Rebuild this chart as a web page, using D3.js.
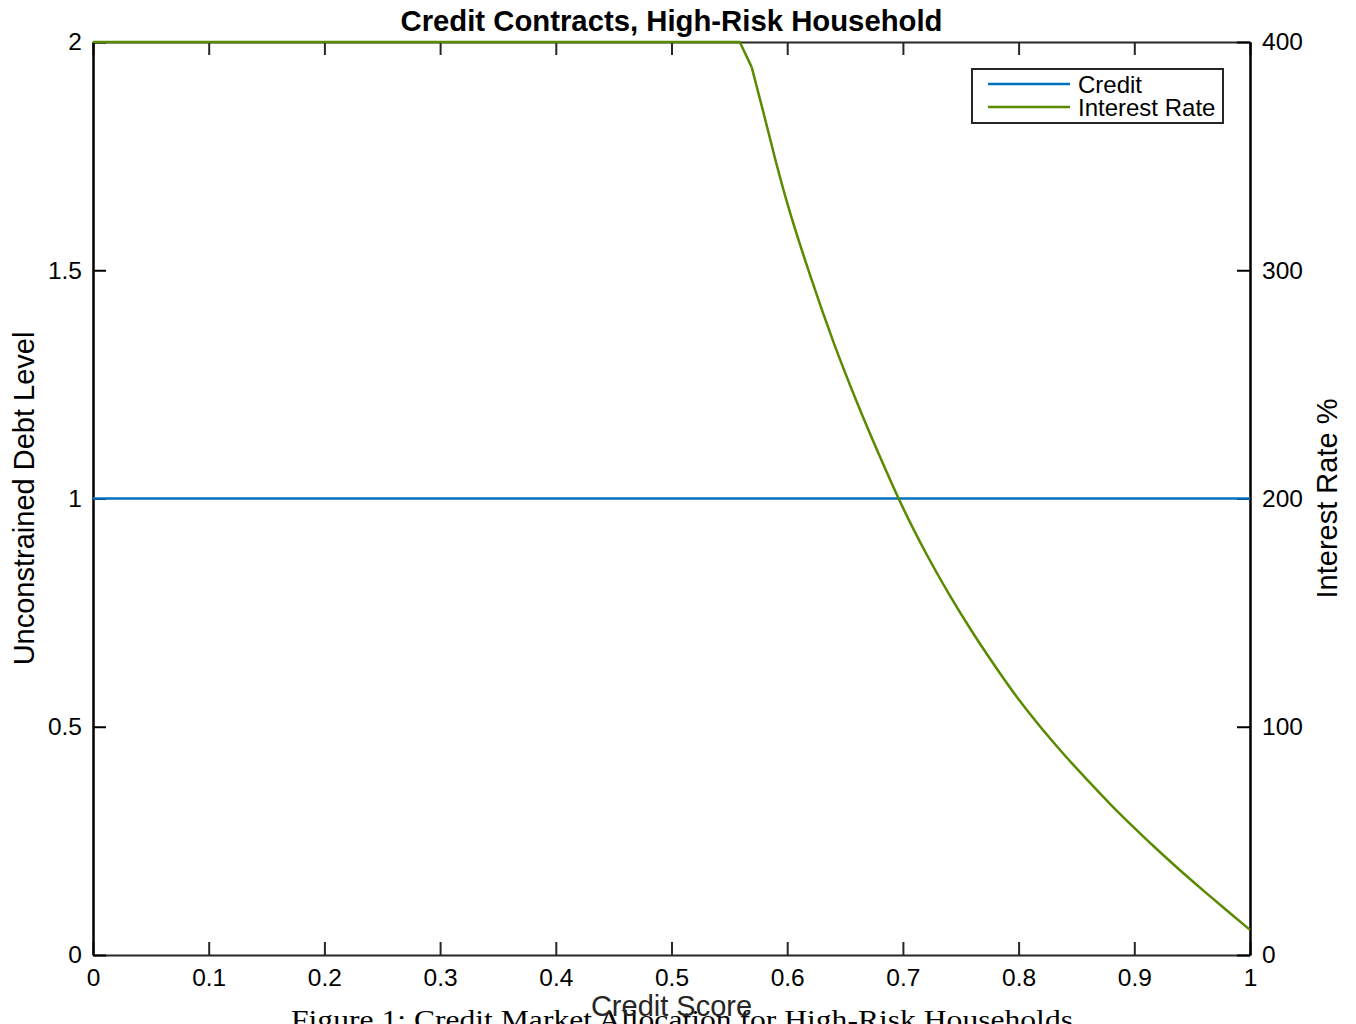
<!DOCTYPE html>
<html>
<head>
<meta charset="utf-8">
<script src="https://cdn.jsdelivr.net/npm/d3@7"></script>
<style>
  html, body { margin: 0; padding: 0; background: #fff; }
  svg { display: block; }
  text { font-family: "Liberation Sans", Arial, Helvetica, sans-serif; }
</style>
</head>
<body>
<svg id="chart" width="1356" height="1024"></svg>
<script>
// ---- data ----
const xTicks = [0, 0.1, 0.2, 0.3, 0.4, 0.5, 0.6, 0.7, 0.8, 0.9, 1];
const xTickLabels = ["0", "0.1", "0.2", "0.3", "0.4", "0.5", "0.6", "0.7", "0.8", "0.9", "1"];
const leftTicks = [0, 0.5, 1, 1.5, 2];
const leftTickLabels = ["0", "0.5", "1", "1.5", "2"];
const rightTicks = [0, 100, 200, 300, 400];
const rightTickLabels = ["0", "100", "200", "300", "400"];

const creditScore = [0, 1];
const creditLevel = [1, 1];

// capped segment (straight pieces) and the smooth decaying part
const rateScoreCapped = [0, 0.559, 0.5693];
const rateValueCapped = [400, 400, 389];
const rateScore = [0.5693, 0.58, 0.59, 0.60, 0.62, 0.64, 0.66, 0.68, 0.70, 0.72, 0.74,
                   0.76, 0.78, 0.80, 0.82, 0.84, 0.86, 0.88, 0.90, 0.92, 0.94, 0.96, 0.98, 1.00];
const rateValue = [389, 368, 348, 329.5, 297.5, 268.5, 242.5, 218.5, 196, 176, 158,
                   141.5, 126.3, 112, 99.2, 87.4, 76.4, 65.7, 55.7, 46.1, 36.9, 28.1, 19.5, 11];

const seriesNames = ["Credit", "Interest Rate"];
const seriesColors = ["#0072BD", "#5a8a00"];

// ---- layout ----
const svg = d3.select("#chart");
const L = 93, R = 1250, T = 42, B = 955;

const x = d3.scaleLinear().domain([0, 1]).range([L, R]);
const yL = d3.scaleLinear().domain([0, 2]).range([B, T]);
const yR = d3.scaleLinear().domain([0, 400]).range([B, T]);

// caption (behind)
svg.append("text")
  .attr("x", 291).attr("y", 1029)
  .attr("textLength", 782).attr("lengthAdjust", "spacingAndGlyphs")
  .style("font-family", "'Liberation Serif', 'DejaVu Serif', serif")
  .style("font-size", "27px").attr("fill", "#000")
  .text("Figure 1: Credit Market Allocation for High-Risk Households");

// axes
function styleAxis(g, color, w) {
  g.select(".domain").attr("stroke", color).attr("stroke-width", w);
  g.selectAll(".tick line").attr("stroke", color).attr("stroke-width", 2);
  g.selectAll(".tick text").attr("fill", "#000")
    .style("font-family", "'Liberation Sans', Arial, sans-serif").style("font-size", "24.5px");
}

const xAxisB = svg.append("g").attr("transform", `translate(0,${B})`)
  .call(d3.axisBottom(x).tickValues(xTicks).tickFormat((d, i) => xTickLabels[i])
    .tickSizeInner(-13).tickSizeOuter(0).tickPadding(14));
styleAxis(xAxisB, "#262626", 2);

const xAxisT = svg.append("g").attr("transform", `translate(0,${T})`)
  .call(d3.axisTop(x).tickValues(xTicks).tickFormat("")
    .tickSizeInner(-13).tickSizeOuter(0));
styleAxis(xAxisT, "#262626", 2);

const yAxisL = svg.append("g").attr("transform", `translate(${L},0)`)
  .call(d3.axisLeft(yL).tickValues(leftTicks).tickFormat((d, i) => leftTickLabels[i])
    .tickSizeInner(-13).tickSizeOuter(0).tickPadding(11));
styleAxis(yAxisL, "#000", 2.5);

const yAxisR = svg.append("g").attr("transform", `translate(${R},0)`)
  .call(d3.axisRight(yR).tickValues(rightTicks).tickFormat((d, i) => rightTickLabels[i])
    .tickSizeInner(-13).tickSizeOuter(0).tickPadding(12));
styleAxis(yAxisR, "#000", 2.5);

// lines
const credit = creditScore.map((s, i) => [s, creditLevel[i]]);
const rateA = rateScoreCapped.map((s, i) => [s, rateValueCapped[i]]);
const rateB = rateScore.map((s, i) => [s, rateValue[i]]);

svg.append("path").datum(credit)
  .attr("fill", "none").attr("stroke", seriesColors[0]).attr("stroke-width", 2.5)
  .attr("d", d3.line().x(d => x(d[0])).y(d => yL(d[1])));

const rateG = svg.append("g").attr("fill", "none").attr("stroke", seriesColors[1])
  .attr("stroke-width", 2.5).attr("stroke-linejoin", "round");
rateG.append("path").datum(rateA)
  .attr("d", d3.line().x(d => x(d[0])).y(d => yR(d[1])));
rateG.append("path").datum(rateB)
  .attr("d", d3.line().curve(d3.curveMonotoneX).x(d => x(d[0])).y(d => yR(d[1])));

// title
svg.append("text")
  .attr("x", (L + R) / 2).attr("y", 31).attr("text-anchor", "middle")
  .style("font-size", "29.3px").style("font-weight", "bold").attr("fill", "#000")
  .text("Credit Contracts, High-Risk Household");

// axis labels
svg.append("text")
  .attr("x", (L + R) / 2).attr("y", 1016).attr("text-anchor", "middle")
  .style("font-size", "29px").attr("fill", "#262626")
  .text("Credit Score");

svg.append("text")
  .attr("transform", `translate(34,${(T + B) / 2}) rotate(-90)`)
  .attr("text-anchor", "middle")
  .style("font-size", "29px").attr("fill", "#000")
  .text("Unconstrained Debt Level");

svg.append("text")
  .attr("transform", `translate(1337,${(T + B) / 2}) rotate(-90)`)
  .attr("text-anchor", "middle")
  .style("font-size", "29px").attr("fill", "#000")
  .text("Interest Rate %");

// legend
const lg = svg.append("g");
lg.append("rect")
  .attr("x", 972).attr("y", 69).attr("width", 251).attr("height", 54)
  .attr("fill", "#fff").attr("stroke", "#262626").attr("stroke-width", 2);
const legendY = [84, 107];
seriesNames.forEach((name, i) => {
  lg.append("line")
    .attr("x1", 988).attr("x2", 1070).attr("y1", legendY[i]).attr("y2", legendY[i])
    .attr("stroke", seriesColors[i]).attr("stroke-width", 2.5);
  lg.append("text")
    .attr("x", 1078).attr("y", legendY[i] + 8.5)
    .style("font-size", "24px").attr("fill", "#000")
    .text(name);
});
</script>
</body>
</html>
